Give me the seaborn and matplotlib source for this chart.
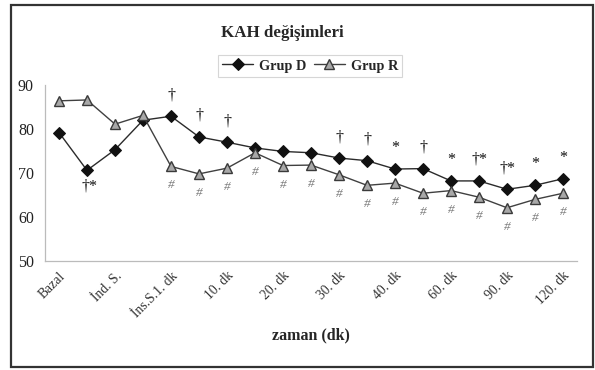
import matplotlib
matplotlib.use("Agg")
import matplotlib.pyplot as plt
import matplotlib.transforms as mtransforms
import seaborn as sns
import pandas as pd
from matplotlib.patches import Rectangle

# ---- data ----
tick_labels = ["Bazal", "", "İnd. S.", "", "İns.S.1. dk", "", "10. dk", "", "20. dk", "",
               "30. dk", "", "40. dk", "", "60. dk", "", "90. dk", "", "120. dk"]
grup_d = [79.2, 70.6, 75.3, 82.0, 82.9, 78.2, 77.0, 75.7, 74.9, 74.6,
          73.4, 72.8, 70.9, 71.0, 68.2, 68.2, 66.3, 67.2, 68.7]
grup_r = [86.4, 86.6, 81.1, 83.1, 71.5, 69.8, 71.1, 74.6, 71.7, 71.8,
          69.6, 67.2, 67.7, 65.4, 66.0, 64.5, 62.1, 64.0, 65.4]
marks_above_d = ["", "", "", "", "†", "†", "†", "", "", "",
                 "†", "†", "*", "†", "*", "†*", "†*", "*", "*"]
marks_below_d = ["", "†*", "", "", "", "", "", "", "", "",
                 "", "", "", "", "", "", "", "", ""]
marks_below_r = ["", "", "", "", "#", "#", "#", "#", "#", "#",
                 "#", "#", "#", "#", "#", "#", "#", "#", "#"]

x = list(range(len(grup_d)))
df = pd.DataFrame({"x": x, "Grup D": grup_d, "Grup R": grup_r})

sns.set_style("white")
plt.rcParams["font.family"] = ["Liberation Serif", "DejaVu Serif"]

fig = plt.figure(figsize=(5.95, 3.70), dpi=100)
ax = fig.add_axes([45/595, 1-261/370, (577-45)/595, (261-85)/370])

sns.lineplot(data=df, x="x", y="Grup D", ax=ax, color="#2b2b2b", lw=1.0,
             marker="D", markersize=6.5, markerfacecolor="#111111",
             markeredgecolor="#111111", label="Grup D")
sns.lineplot(data=df, x="x", y="Grup R", ax=ax, color="#404040", lw=1.0,
             marker="^", markersize=7.5, markerfacecolor="#a8a8a8",
             markeredgecolor="#3a3a3a", markeredgewidth=1.0, label="Grup R")

for i in x:
    if marks_above_d[i]:
        ax.annotate(marks_above_d[i], (i, grup_d[i]), xytext=(0, 21),
                    textcoords="offset pixels", ha="center", va="center",
                    fontsize=11.5, color="#111111")
    if marks_below_d[i]:
        ax.annotate(marks_below_d[i], (i, grup_d[i]), xytext=(3, -16),
                    textcoords="offset pixels", ha="center", va="center",
                    fontsize=11.5, color="#111111")
    if marks_below_r[i]:
        ax.annotate(marks_below_r[i], (i, grup_r[i]), xytext=(0, -19),
                    textcoords="offset pixels", ha="center", va="center",
                    fontsize=9.5, color="#777777", style="italic")

ax.set_xlim(-0.5, len(x) - 0.5)
ax.set_ylim(50, 90)
ax.set_yticks([50, 60, 70, 80, 90])
ax.set_xticks(x)
ax.set_xticklabels(tick_labels, rotation=45, ha="right", rotation_mode="anchor",
                   fontsize=9.8, color="#333333")
shift = mtransforms.ScaledTranslation(-9/100, -3/100, fig.dpi_scale_trans)
for lab in ax.get_xticklabels():
    lab.set_transform(lab.get_transform() + shift)
ax.tick_params(axis="x", length=0, pad=6)
ax.set_xticks([i - 0.5 for i in range(len(x) + 1)], minor=True)
ax.tick_params(axis="x", which="minor", length=4, color="#bbbbbb", width=0.8)
ax.tick_params(axis="y", length=4, color="#bbbbbb", width=0.8, labelsize=11.5,
               labelcolor="#222222", pad=4)

for s in ["top", "right"]:
    ax.spines[s].set_visible(False)
for s in ["left", "bottom"]:
    ax.spines[s].set_color("#bbbbbb")
    ax.spines[s].set_linewidth(0.9)

ax.set_ylabel("")
ax.set_xlabel("zaman (dk)", fontsize=11.5, fontweight="bold")
ax.xaxis.set_label_coords(0.5, -(335-261)/176)
ax.xaxis.label.set_va("center")

leg = ax.legend(loc="center", bbox_to_anchor=(310/595, 1-66/370),
                bbox_transform=fig.transFigure, ncol=2, frameon=True,
                fancybox=False, edgecolor="#cccccc", handlelength=2.2,
                columnspacing=0.5, handletextpad=0.4, borderpad=0.3,
                prop={"weight": "bold", "size": 10.3})
leg.get_frame().set_linewidth(0.8)

fig.text(282/595, 1-33/370, "KAH değişimleri", ha="center", va="center",
         fontsize=12.2, fontweight="bold")

fig.patches.append(Rectangle((11/595, 3/370), (593-11)/595, (366-4)/370,
                             transform=fig.transFigure, fill=False,
                             edgecolor="#333333", lw=1.6))

fig.savefig("out.png", dpi=100, facecolor="white")
